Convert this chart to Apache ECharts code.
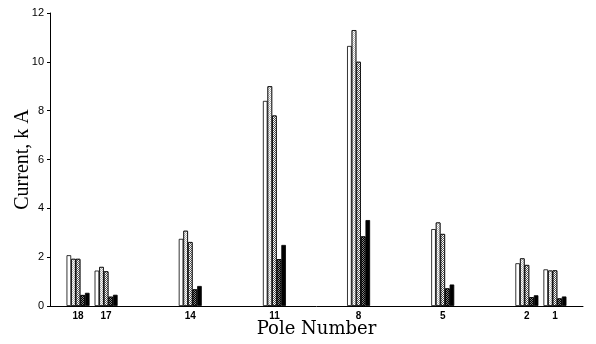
<!DOCTYPE html>
<html><head><meta charset="utf-8">
<script src="https://cdn.jsdelivr.net/npm/echarts@6/dist/echarts.min.js"></script>
<style>html,body{margin:0;padding:0;background:#fff}#c{width:596px;height:344px}</style>
</head><body><div id="c"></div>
<script>
const poles = [18, 17, 14, 11, 8, 5, 2, 1];
const s1 = [2.08, 1.45, 2.75, 8.4, 10.65, 3.15, 1.75, 1.5];
const s2 = [1.93, 1.6, 3.08, 9.0, 11.3, 3.42, 1.95, 1.45];
const s3 = [1.93, 1.42, 2.62, 7.8, 10.0, 2.95, 1.68, 1.46];
const s4 = [0.45, 0.38, 0.68, 1.92, 2.85, 0.72, 0.36, 0.31];
const s5 = [0.54, 0.46, 0.82, 2.5, 3.52, 0.88, 0.44, 0.39];
const yTicks = [0, 2, 4, 6, 8, 10, 12];
const axisCats = ['19','18','17','16','15','14','13','12','11','10','9','8','7','6','5','4','3','2','1','0'];

const toCat = arr => axisCats.map(c => {
  const i = poles.indexOf(Number(c));
  return i >= 0 ? arr[i] : null;
});
const checker = (fg, bg) => ({
  symbol: 'rect', symbolSize: 1, color: fg, backgroundColor: bg,
  dashArrayX: [[1, 1], [0, 1, 1, 0]], dashArrayY: [1, 0]
});
const mk = (arr, color, decal) => ({
  type: 'bar', data: toCat(arr), barWidth: 4.6, barGap: '0%',
  itemStyle: Object.assign({ color: color, borderColor: '#000', borderWidth: 0.8 }, decal ? { decal: decal } : {}),
  silent: true, animation: false
});

const chart = echarts.init(document.getElementById('c'));
chart.setOption({
  animation: false,
  grid: { left: 50, right: 13, top: 13, bottom: 38, containLabel: false, outerBoundsMode: 'none' },
  xAxis: {
    type: 'category', data: axisCats, boundaryGap: false,
    name: 'Pole Number', nameLocation: 'middle', nameGap: 14, nameMoveOverlap: false,
    nameTextStyle: { fontFamily: 'DejaVu Serif', fontSize: 18, color: '#000' },
    axisLine: { show: true, lineStyle: { color: '#000', width: 1 } },
    axisTick: { show: false },
    splitLine: { show: false },
    axisLabel: {
      interval: 0, color: '#000', fontFamily: 'Liberation Sans', fontWeight: 'bold', fontSize: 10, margin: 5,
      formatter: v => poles.includes(Number(v)) ? v : ''
    }
  },
  yAxis: {
    type: 'value', min: 0, max: 12, interval: 2,
    name: 'Current, k A', nameLocation: 'middle', nameGap: 17, nameMoveOverlap: false,
    nameTextStyle: { fontFamily: 'Liberation Serif', fontSize: 20, color: '#000' },
    axisLine: { show: true, onZero: false, lineStyle: { color: '#000', width: 1 } },
    axisTick: { show: true, length: 3, lineStyle: { color: '#000' } },
    splitLine: { show: false },
    axisLabel: { color: '#000', fontFamily: 'Liberation Sans', fontSize: 11, margin: 6,
      formatter: v => yTicks.includes(v) ? String(v) : '' }
  },
  series: [
    mk(s1, '#ffffff'),
    mk(s2, '#ffffff', checker('#b0b0b0', '#ffffff')),
    mk(s3, '#ffffff', checker('#555555', '#ffffff')),
    mk(s4, '#444444', checker('#000000', '#888888')),
    mk(s5, '#000000')
  ]
});
</script></body></html>
